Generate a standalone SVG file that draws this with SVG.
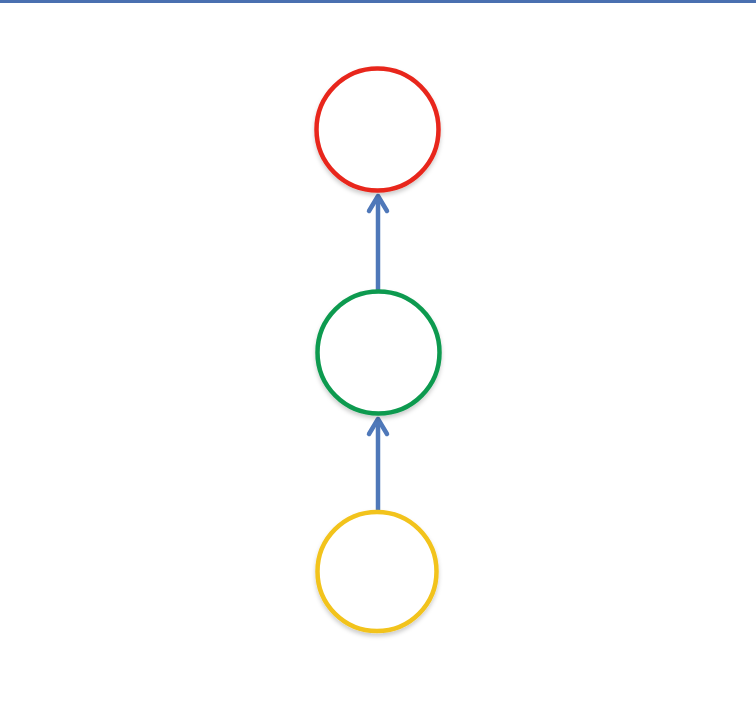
<svg xmlns="http://www.w3.org/2000/svg" width="756" height="726" viewBox="0 0 756 726">
<style>
.node{fill:#ffffff;stroke-width:4.5}
.edge{stroke:#4f78b9;stroke-width:4.5;fill:none}
.head{stroke:#4f78b9;stroke-width:4.5;fill:none;stroke-linecap:round;stroke-linejoin:round}
</style>
<defs>
<filter id="sh" x="-20%" y="-20%" width="140%" height="150%">
<feDropShadow dx="0" dy="3" stdDeviation="2" flood-color="#000" flood-opacity="0.2"/>
</filter>
</defs>
<rect x="0" y="0" width="756" height="726" fill="#ffffff"/>
<rect x="0" y="0" width="756" height="3" fill="#4a70b0"/>
<g id="connectors">
<line class="edge" x1="378" y1="290" x2="378" y2="196"/>
<polyline class="head" points="369,211 378,196 387,211"/>
<line class="edge" x1="378" y1="510" x2="378" y2="419"/>
<polyline class="head" points="369,434 378,419 387,434"/>
</g>
<g id="node-red" filter="url(#sh)">
<circle class="node" cx="377.5" cy="129.5" r="61" stroke="#e8261a"/>
</g>
<g id="node-green" filter="url(#sh)">
<circle class="node" cx="378.5" cy="352.5" r="61" stroke="#0c9a4f"/>
</g>
<g id="node-yellow" filter="url(#sh)">
<circle class="node" cx="377" cy="571.5" r="59.5" stroke="#f2c31c"/>
</g>
</svg>
